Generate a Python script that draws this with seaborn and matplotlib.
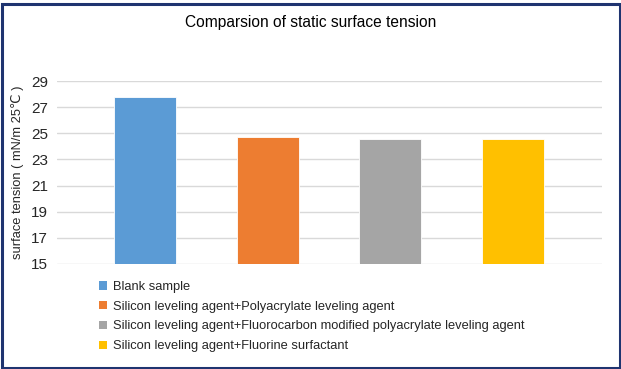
import matplotlib
matplotlib.use("Agg")
import matplotlib.pyplot as plt
import seaborn as sns
import pandas as pd
from matplotlib.patches import Patch, Rectangle

categories = ["Blank sample",
              "Silicon leveling agent+Polyacrylate leveling agent",
              "Silicon leveling agent+Fluorocarbon modified polyacrylate leveling agent",
              "Silicon leveling agent+Fluorine surfactant"]
values = [27.8, 24.7, 24.6, 24.6]
colors = ["#5B9BD5", "#ED7D31", "#A5A5A5", "#FFC000"]
yticks = [15, 17, 19, 21, 23, 25, 27, 29]
title = "Comparsion of static surface tension"
ylabel = "surface tension ( mN/m 25\u2103 )"

sns.set_theme(style="white")
plt.rcParams['font.family'] = ['Liberation Sans', 'DejaVu Sans']

W, H = 621, 369
fig = plt.figure(figsize=(W / 100, H / 100), dpi=100)
ax = fig.add_axes([57 / W, (H - 264) / H, 545 / W, 183 / H])

df = pd.DataFrame({"cat": categories, "val": values})
sns.barplot(data=df, x="cat", y="val", hue="cat", palette=colors, width=0.506,
            dodge=False, legend=False, ax=ax, edgecolor="white", linewidth=0.6,
            saturation=1, zorder=3)

ax.set_xlim(-0.718, 3.73)
ax.set_ylim(14.97, 29.03)
ax.set_yticks(yticks)
ax.set_yticklabels([str(t) for t in yticks], fontsize=11, color="#262626")
ax.set_xticks([])
ax.set_xlabel("")
ax.set_ylabel(ylabel, fontsize=9.3, color="#262626", labelpad=5)
ax.tick_params(axis="y", length=0, pad=6.5)
ax.yaxis.grid(True, color="#D9D9D9", linewidth=1.0, zorder=0)
ax.set_axisbelow(True)
for s in ax.spines.values():
    s.set_visible(False)

fig.text(0.5, 1 - 22 / H, title, ha="center", va="center", fontsize=11.2, color="#000000")

handles = [Patch(facecolor=c, edgecolor="none") for c in colors]
fig.legend(handles, categories, loc="upper left",
           bbox_to_anchor=(99 / W, (H - 281) / H), frameon=False, fontsize=9.3,
           handlelength=0.6, handleheight=0.6, handletextpad=0.5,
           labelspacing=0.6, borderpad=0, borderaxespad=0, labelcolor="#262626")

fig.patches.append(Rectangle((1.5 / W, 1.5 / H), (W - 3) / W, (H - 5) / H,
                             transform=fig.transFigure, fill=False,
                             edgecolor="#1F3470", linewidth=2.2))

fig.savefig("out.png", dpi=100)
